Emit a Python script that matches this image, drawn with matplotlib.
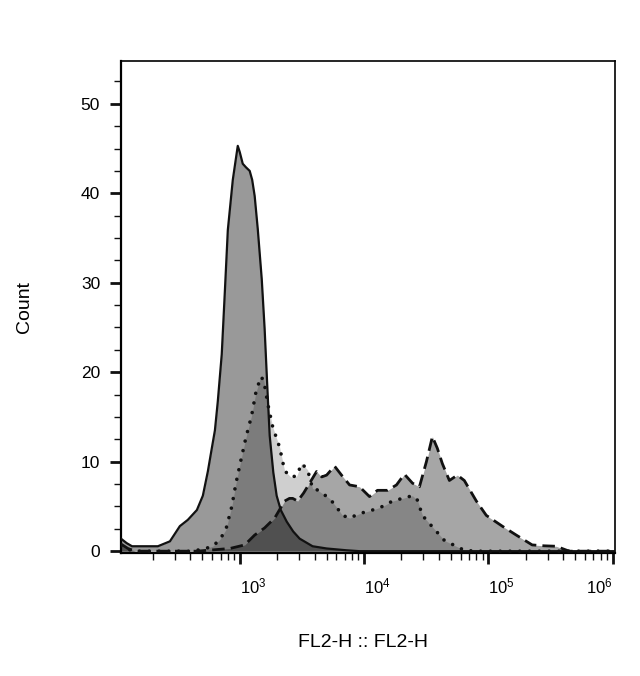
import numpy as np
import matplotlib
matplotlib.use("Agg")
import matplotlib.pyplot as plt
from matplotlib.ticker import LogLocator, MultipleLocator, NullFormatter

plt.rcParams['font.family'] = ['Liberation Sans', 'DejaVu Sans']
plt.rcParams['mathtext.fontset'] = 'custom'
plt.rcParams['mathtext.rm'] = 'Liberation Sans'
plt.rcParams['mathtext.default'] = 'regular'

# FL2-H channel (log10 of FL2-H)
solid_exp = [2.044, 2.09, 2.133, 2.341, 2.438, 2.518, 2.582, 2.655, 2.703, 2.743,
             2.775, 2.80, 2.823, 2.855, 2.88, 2.904, 2.944, 2.965, 2.984, 3.0,
             3.024, 3.05, 3.080, 3.100, 3.120, 3.145, 3.177, 3.200, 3.225, 3.241,
             3.27, 3.297, 3.33, 3.378, 3.43, 3.482, 3.586, 3.70, 3.859, 3.964, 6.1]
solid_count = [1.4, 0.9, 0.55, 0.55, 1.1, 2.8, 3.5, 4.6, 6.2, 8.9,
               11.5, 13.5, 16.7, 22, 29, 35.9, 41.5, 43.5, 45.3, 44.6,
               43.3, 42.9, 42.5, 41.5, 39.7, 36, 30.4, 24.9, 17.4, 12.9,
               8.8, 6.2, 4.6, 3.3, 2.2, 1.4, 0.55, 0.3, 0.1, 0, 0]

dotted_exp = [2.044, 2.10, 2.16, 2.60, 2.70, 2.783, 2.84, 2.888, 2.936, 2.968,
              3.008, 3.048, 3.096, 3.129, 3.169, 3.193, 3.225, 3.265, 3.321, 3.361,
              3.41, 3.458, 3.498, 3.546, 3.586, 3.618, 3.67, 3.723, 3.78, 3.827,
              3.884, 3.964, 4.068, 4.149, 4.229, 4.309, 4.390, 4.430, 4.470, 4.526,
              4.647, 4.807, 4.9, 6.1]
dotted_count = [0.6, 0.2, 0, 0, 0.2, 0.55, 1.3, 2.4, 5.0, 7.5,
                10.1, 12.6, 15.2, 17.7, 19.5, 19.1, 16.5, 13.9, 11.6, 9.0,
                8.3, 8.4, 9.8, 9.1, 7.0, 6.9, 6.4, 5.9, 4.9, 4.0,
                3.7, 4.2, 4.6, 5.0, 5.6, 5.9, 6.2, 5.7, 4.0, 3.1,
                1.2, 0.1, 0, 0]

dashed_exp = [2.044, 2.10, 2.16, 2.655, 2.920, 3.04, 3.12, 3.20, 3.281, 3.361,
              3.40, 3.426, 3.466, 3.514, 3.562, 3.618, 3.66, 3.699, 3.763, 3.819,
              3.884, 3.964, 4.044, 4.108, 4.189, 4.261, 4.325, 4.390, 4.446, 4.502,
              4.55, 4.59, 4.63, 4.687, 4.751, 4.807, 4.904, 4.984, 5.112, 5.225,
              5.353, 5.45, 5.546, 5.651, 6.1]
dashed_count = [0.8, 0.3, 0, 0, 0.3, 0.7, 1.8, 2.6, 3.7, 5.6,
                5.9, 5.9, 5.6, 6.5, 7.6, 8.9, 8.3, 8.5, 9.5, 8.5,
                7.4, 7.2, 6.1, 6.8, 6.8, 7.4, 8.6, 7.6, 7.2, 10,
                12.8, 11.5, 9.8, 7.9, 8.5, 7.9, 5.6, 4.0, 2.8, 1.8,
                0.7, 0.6, 0.55, 0, 0]

decades = [1e3, 1e4, 1e5, 1e6]
decade_labels = ['$10^{3}$', '$10^{4}$', '$10^{5}$', '$10^{6}$']

fig = plt.figure(figsize=(6.4, 6.76), dpi=100)
ax = fig.add_axes([0.189, 0.182, 0.772, 0.728])

# fills first (black with alpha so overlaps get darker), then outlines
series = [
    (solid_exp, solid_count, 0.40, 'solid'),
    (dotted_exp, dotted_count, 0.19, 'dotted'),
    (dashed_exp, dashed_count, 0.35, 'dashed'),
]
for xe, yc, a, kind in series:
    x = 10 ** np.array(xe)
    ax.fill_between(x, 0, yc, color='black', alpha=a, linewidth=0)
for xe, yc, a, kind in series:
    x = 10 ** np.array(xe)
    if kind == 'solid':
        ax.plot(x, yc, color='#111111', lw=1.6, zorder=5)
    elif kind == 'dotted':
        ax.plot(x, yc, color='#111111', lw=2.6, linestyle=(0, (0.01, 2.7)),
                dash_capstyle='round', zorder=4)
    else:
        ax.plot(x, yc, color='#111111', lw=2.0, linestyle=(0, (4.5, 2.2)), zorder=4)

ax.set_xscale('log')
ax.set_xlim(10 ** 2.044, 10 ** 6.02)
ax.set_ylim(-0.2, 54.8)

ax.set_xticks(decades)
ax.set_xticklabels(decade_labels)
ax.xaxis.set_minor_locator(LogLocator(base=10, subs=np.arange(2, 10), numticks=20))
ax.xaxis.set_minor_formatter(NullFormatter())
ax.yaxis.set_major_locator(MultipleLocator(10))
ax.yaxis.set_minor_locator(MultipleLocator(2.5))

ax.tick_params(which='major', direction='out', length=8, width=2, color='#111111')
ax.tick_params(which='minor', direction='out', length=5, width=1, color='#111111')
ax.tick_params(axis='x', which='major', pad=9, labelsize=12)
ax.tick_params(axis='y', which='major', pad=7, labelsize=12.5)

# labels sit just right of their tick, the last one is pulled inside
for lab in ax.get_xticklabels():
    lab.set_horizontalalignment('left')
ax.get_xticklabels()[-1].set_horizontalalignment('right')

for side in ['left', 'bottom']:
    ax.spines[side].set_linewidth(1.6)
for side in ['top', 'right']:
    ax.spines[side].set_linewidth(1.2)

ax.set_xlabel('FL2-H :: FL2-H', fontsize=14)
ax.xaxis.set_label_coords(0.49, -0.165)
ax.set_ylabel('Count', fontsize=14)
ax.yaxis.set_label_coords(-0.178, 0.5)

plt.savefig('out.png', dpi=100)
